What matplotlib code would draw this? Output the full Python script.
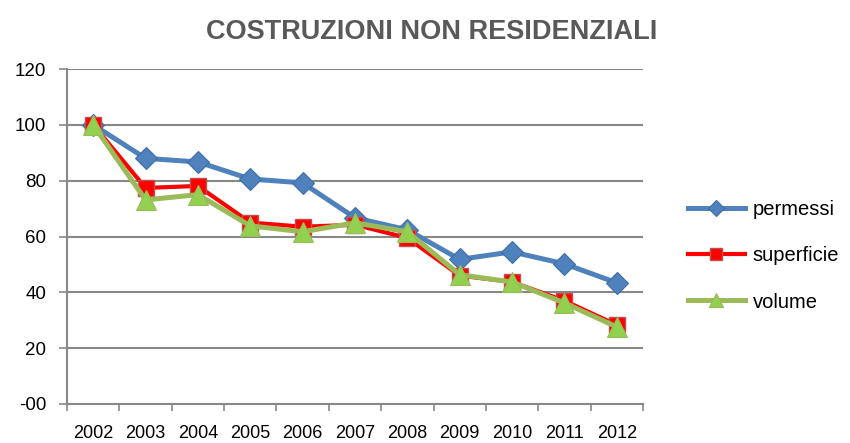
import numpy as np
import matplotlib
matplotlib.use("Agg")
import matplotlib.pyplot as plt

# dati (indice 2002 = 100)
anni = ["2002", "2003", "2004", "2005", "2006", "2007", "2008", "2009", "2010", "2011", "2012"]
permessi   = [100, 88.0, 86.7, 80.6, 79.2, 66.7, 62.4, 51.8, 54.5, 50.2, 43.4]
superficie = [100, 77.4, 78.1, 65.0, 63.5, 64.2, 59.5, 46.0, 43.7, 37.0, 28.3]
volume     = [100, 73.1, 75.0, 63.8, 61.7, 64.9, 61.7, 46.3, 43.7, 36.2, 27.6]
yticks = [0, 20, 40, 60, 80, 100, 120]
ylabels = ["-00", "20", "40", "60", "80", "100", "120"]

plt.rcParams["font.family"] = ["Liberation Sans", "DejaVu Sans"]

fig = plt.figure(figsize=(8.5, 4.43), dpi=100)
ax = fig.add_axes([67/850, 1 - 404/443, 576/850, 335/443])

x = np.arange(len(anni))
grid_c = "#888888"

ax.plot(x, permessi, color="#4F81BD", lw=3.6, marker="D", ms=11,
        mfc="#4F81BD", mec="#3C6EA8", mew=0.8, label="permessi", zorder=3)
ax.plot(x, superficie, color="#FF0000", lw=3.0, marker="s", ms=12,
        mfc="#FF0000", mec="#C0504D", mew=1.0, label="superficie", zorder=4)
ax.plot(x, volume, color="#9BBB59", lw=3.6, marker="^", ms=14,
        mfc="#92D050", mec="#9BBB59", mew=0.8, label="volume", zorder=5)

ax.set_xlim(-0.5, len(anni) - 0.5)
ax.set_ylim(0, 120)
ax.set_yticks(yticks)
ax.set_yticklabels(ylabels)
for y in yticks[1:]:
    ax.axhline(y, color=grid_c, lw=1.5, zorder=1)

# tick alle separazioni tra categorie, etichette al centro
ax.set_xticks(np.arange(-0.5, len(anni) + 0.5, 1.0))
ax.set_xticklabels([])
ax.set_xticks(x, minor=True)
ax.set_xticklabels(anni, minor=True)
ax.tick_params(axis="x", which="major", length=5, width=1.2, color=grid_c, direction="out")
ax.tick_params(axis="x", which="minor", length=0, pad=15, labelsize=13, labelcolor="#000000")
ax.tick_params(axis="y", length=6, width=1.2, color=grid_c, direction="out",
               labelsize=13.5, pad=9)

for s in ["top", "right"]:
    ax.spines[s].set_visible(False)
for s in ["left", "bottom"]:
    ax.spines[s].set_color(grid_c)
    ax.spines[s].set_linewidth(1.5)

fig.text(432/850, 1 - 32/443, "COSTRUZIONI NON RESIDENZIALI", ha="center", va="center",
         fontsize=19.5, fontweight="bold", color="#595959")

leg = fig.legend(loc="upper left", bbox_to_anchor=(670/850, 1 - 182/443), frameon=False,
                 fontsize=14.5, handlelength=2.8, labelspacing=1.35, handletextpad=0.4,
                 markerscale=0.7)

fig.savefig("out.png", dpi=100)
